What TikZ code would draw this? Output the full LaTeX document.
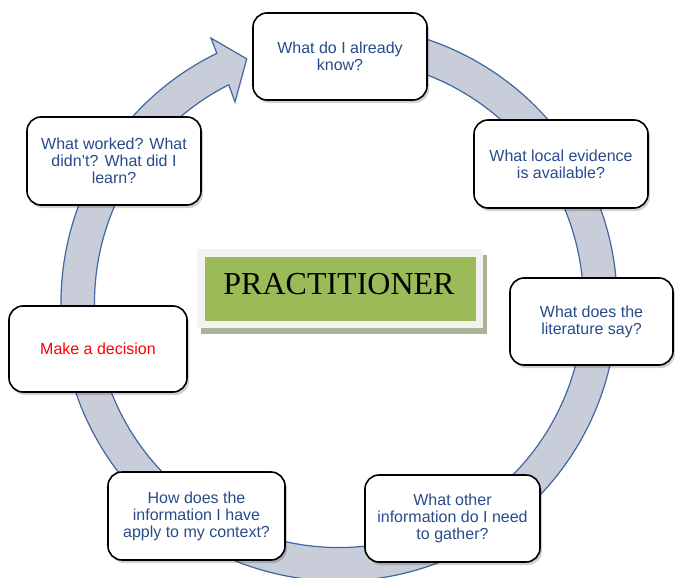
\documentclass[tikz,border=0pt]{standalone}
\usepackage{fontspec}
\setmainfont{Liberation Sans}
\newfontfamily\serifface{Liberation Serif}
\usetikzlibrary{calc,shadows}
\definecolor{ringfill}{RGB}{201,205,217}
\definecolor{ringline}{RGB}{62,104,160}
\definecolor{qblue}{RGB}{40,75,140}
\definecolor{practgreen}{RGB}{155,187,89}
\definecolor{framegray}{RGB}{242,242,242}
\definecolor{frameshadow}{RGB}{170,180,150}
\begin{document}
\begin{tikzpicture}[x=1pt,y=1pt,
  qbox/.style={draw=black, line width=1.6pt, fill=white, rounded corners=14pt,
    align=center, inner sep=0pt, text=qblue,
    font=\fontsize{16}{17}\selectfont,
    drop shadow={shadow xshift=2pt, shadow yshift=-3pt, opacity=0.18, fill=black}},
  ringarrow/.style={fill=ringfill, draw=ringline, line width=1.2pt, line join=miter}]
\useasboundingbox (0,0) rectangle (675,-578);
\fill[white] (0,0) rectangle (675,-578);

% circular arrow running clockwise round the cycle
\coordinate (C) at (339,-303);
\path[ringarrow]
  ($(C)+(116.8:244.5)$) -- ($(C)+(117.36:226.3)$) -- ($(C)+(110.7:261)$)
  -- ($(C)+(115.8:294.3)$) -- ($(C)+(116.07:278)$)
  arc[start angle=116.07, end angle=462, radius=278]
  -- ($(C)+(462:244.5)$)
  arc[start angle=462, end angle=116.8, radius=244.5] -- cycle;

% question boxes
\node[qbox, minimum width=174, minimum height=87] (q1) at (340,-56.5) {What do I already\\know?};
\node[qbox, minimum width=174, minimum height=88] (q2) at (561,-164) {What local evidence\\is available?};
\node[qbox, minimum width=163, minimum height=87] (q3) at (591.5,-321.5) {What does the\\literature say?};
\node[qbox, minimum width=175, minimum height=87] (q4) at (452.5,-518.5) {What other\\information do I need\\to gather?};
\node[qbox, minimum width=177, minimum height=88] (q5) at (196.5,-516) {How does the\\information I have\\apply to my context?};
\node[qbox, minimum width=178, minimum height=86, text=red] (q6) at (98,-349) {Make a decision};
\node[qbox, minimum width=174, minimum height=88] (q7) at (114,-161) {What worked? What\\didn't? What did I\\learn?};

% central label
\fill[frameshadow] (201,-255) rectangle (487,-334);
\fill[framegray] (197,-249) rectangle (483,-328);
\fill[practgreen] (205,-257) rectangle (476,-321);
\node[inner sep=0pt, font=\serifface\fontsize{32}{32}\selectfont] (prac) at (339,-284.5) {PRACTITIONER};
\end{tikzpicture}
\end{document}
